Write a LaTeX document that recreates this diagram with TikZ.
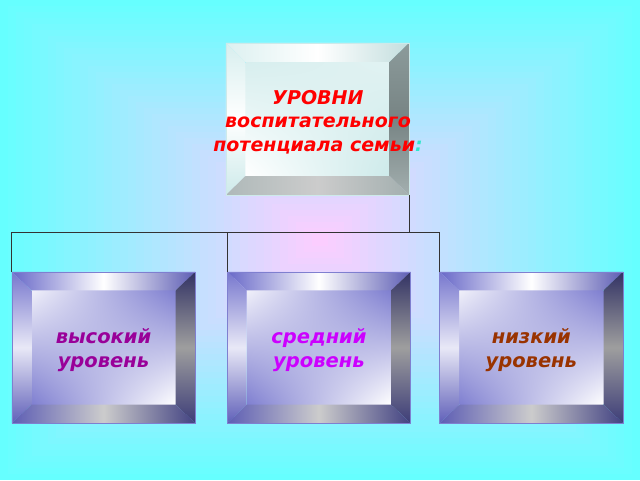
\documentclass[tikz,border=0pt]{standalone}
\usepackage{fontspec}
\setmainfont{DejaVu Sans}
\usetikzlibrary{positioning,shadings}
\definecolor{aqua}{RGB}{102,255,255}
\definecolor{rose}{RGB}{255,204,255}
\definecolor{panelblue}{RGB}{104,104,200}
\definecolor{navy}{RGB}{50,50,100}
\definecolor{frost}{RGB}{205,234,234}
\definecolor{slate}{RGB}{140,155,155}
\definecolor{colon}{RGB}{51,230,204}
\definecolor{highc}{RGB}{153,0,153}
\definecolor{midc}{RGB}{204,0,255}
\definecolor{lowc}{RGB}{153,51,0}
\tikzset{
  outerframe/.style={minimum width=183pt, minimum height=152pt, inner sep=0pt},
  panel/.style={minimum width=144pt, minimum height=114pt, inner sep=0pt},
  leveltext/.style={font=\bfseries\itshape\fontsize{19.5}{24}\selectfont, align=center},
  titletext/.style={font=\bfseries\itshape\fontsize{19}{23.5}\selectfont, text=red, align=center},
  link/.style={draw=black!80, line width=0.8pt},
  bluetop/.style={left color=panelblue, right color=panelblue!80!navy, middle color=white},
  blueleft/.style={top color=panelblue!90, bottom color=panelblue!85!navy, middle color=white!85!panelblue},
  blueright/.style={top color=navy, bottom color=navy!80!panelblue, middle color=black!38},
  bluebottom/.style={left color=panelblue!80!navy, right color=navy!70!panelblue, middle color=black!20},
  blueedge/.style={draw=panelblue!85!white, line width=0.6pt},
  bluepanel/.style={shade, upper right=panelblue!85, lower left=panelblue!85, upper left=white!90!panelblue, lower right=white},
  icetop/.style={left color=frost!70!white, right color=frost!85!slate, middle color=white},
  iceleft/.style={top color=frost!80!white, bottom color=frost, middle color=white},
  iceright/.style={top color=slate, bottom color=slate!80!white, middle color=slate!85!black},
  icebottom/.style={left color=slate!70!white, right color=slate!80!white, middle color=black!20},
  iceedge/.style={draw=frost, line width=0.6pt},
  icepanel/.style={shade, upper left=frost!80!white, lower right=frost, upper right=frost!60!white, lower left=white},
}
\newcommand\bevels[3]{%
  \shade[#3top] (#1.north west) -- (#1.north east) -- (#2.north east) -- (#2.north west) -- cycle;
  \shade[#3left] (#1.north west) -- (#2.north west) -- (#2.south west) -- (#1.south west) -- cycle;
  \shade[#3right] (#1.north east) -- (#1.south east) -- (#2.south east) -- (#2.north east) -- cycle;
  \shade[#3bottom] (#1.south west) -- (#2.south west) -- (#2.south east) -- (#1.south east) -- cycle;
  \draw[#3edge] (#1.north west) rectangle (#1.south east);
}
\begin{document}
\begin{tikzpicture}[x=1pt, y=-1pt]
  \useasboundingbox (0,0) rectangle (640,480);
  \foreach \i in {0,...,39} {
    \pgfmathsetmacro\p{100-2.5*\i}
    \fill[aqua!\p!rose] (\i*8,\i*6) rectangle (640-\i*8,480-\i*6);
  }
  \node[outerframe] (top) at (317.5,119) {};
  \node[panel, icepanel] (topin) at (top) {};
  \bevels{top}{topin}{ice}
  \node[titletext] (title) at (318,122) {УРОВНИ\\воспитательного\\потенциала семьи{\color{colon}:}};
  \node[outerframe, minimum height=151pt] (high) at (103.5,347.5) {};
  \node[outerframe, minimum height=151pt, right=32pt of high] (mid) {};
  \node[outerframe, minimum height=151pt, right=29pt of mid] (low) {};
  \node[panel, bluepanel] (highin) at (high) {};
  \node[panel, bluepanel] (midin) at (mid) {};
  \node[panel, bluepanel] (lowin) at (low) {};
  \bevels{high}{highin}{blue}
  \bevels{mid}{midin}{blue}
  \bevels{low}{lowin}{blue}
  \node[leveltext, text=highc, yshift=-3pt] (hightext) at (highin) {высокий\\уровень};
  \node[leveltext, text=midc, yshift=-3pt] (midtext) at (midin) {средний\\уровень};
  \node[leveltext, text=lowc, yshift=-3pt] (lowtext) at (lowin) {низкий\\уровень};
  \coordinate (bus) at (0,232);
  \draw[link] (top.south east) -- (top.south east |- bus);
  \draw[link] (high.north west) |- (low.north west |- bus) -- (low.north west);
  \draw[link] (mid.north west) -- (mid.north west |- bus);
\end{tikzpicture}
\end{document}
